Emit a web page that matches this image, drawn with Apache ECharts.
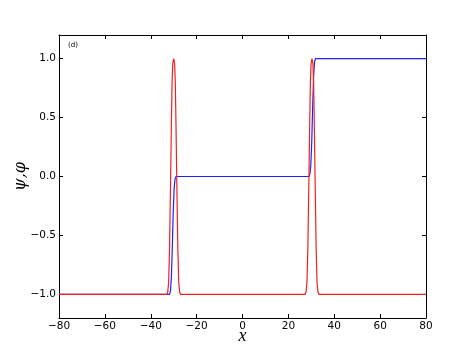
<!DOCTYPE html>
<html>
<head>
<meta charset="utf-8">
<script src="https://cdn.jsdelivr.net/npm/echarts@6/dist/echarts.min.js"></script>
<style>
  html, body { margin: 0; padding: 0; background: #fff; }
  #chart { width: 474px; height: 355px; }
</style>
</head>
<body>
<div id="chart"></div>
<script>
// blue curve: kink from -1 to 0 near x=-30, then 0 to 1 near x=30
const blueX = [-80, -31.8, -31.4, -31.0, -30.6, -30.2, -29.8, -29.4, -29.0,
  29.0, 29.4, 29.8, 30.2, 30.6, 31.0, 31.4, 31.8, 80];
const blueY = [-1, -1, -0.97, -0.85, -0.6, -0.3, -0.1, -0.02, 0,
  0, 0.02, 0.1, 0.3, 0.6, 0.85, 0.97, 1, 1];

// red curve: two narrow pulses reaching 1 at the kink positions
const redX = [-80, -33.0, -32.6, -32.2, -31.8, -31.4, -31.0, -30.7, -30.4, -30.0,
  -29.6, -29.3, -29.0, -28.6, -28.2, -27.8, -27.4, -27.0,
  27.3, 27.7, 28.1, 28.5, 28.9, 29.3, 29.6, 29.9, 30.3,
  30.7, 31.0, 31.3, 31.7, 32.1, 32.5, 32.9, 33.3, 80];
const redY = [-1, -1, -0.98, -0.9, -0.6, -0.1, 0.45, 0.8, 0.96, 1,
  0.96, 0.8, 0.45, -0.1, -0.6, -0.9, -0.98, -1,
  -1, -0.98, -0.9, -0.6, -0.1, 0.45, 0.8, 0.96, 1,
  0.96, 0.8, 0.45, -0.1, -0.6, -0.9, -0.98, -1, -1];

const yTicks = [-1.0, -0.5, 0.0, 0.5, 1.0];

const minus = v => (v < 0 ? '\u2212' : '') + Math.abs(v);
const fmtY = v => (v < 0 ? '\u2212' : '') + Math.abs(v).toFixed(1);

const chart = echarts.init(document.getElementById('chart'));

const frameLine = { show: true, onZero: false, lineStyle: { color: '#000', width: 1 } };
const tickStyle = { show: true, inside: true, length: 4, lineStyle: { color: '#000', width: 1 } };
const labelFont = { color: '#000', fontSize: 10.5, fontFamily: 'DejaVu Sans' };

chart.setOption({
  animation: false,
  grid: { left: 59, right: 48, top: 35, bottom: 37, outerBoundsMode: 'none', containLabel: false },
  xAxis: [
    {
      type: 'value', min: -80, max: 80, interval: 20,
      axisLine: frameLine, axisTick: tickStyle, splitLine: { show: false },
      axisLabel: Object.assign({ margin: 3, formatter: minus }, labelFont),
      name: 'x', nameLocation: 'middle', nameGap: 9, nameMoveOverlap: false,
      nameTextStyle: { fontFamily: 'Liberation Serif', fontStyle: 'italic', fontSize: 18, color: '#000' }
    },
    {
      type: 'value', min: -80, max: 80, interval: 20, position: 'top',
      axisLine: frameLine, axisTick: tickStyle, splitLine: { show: false },
      axisLabel: { show: false }
    }
  ],
  yAxis: [
    {
      type: 'value', min: -1.2, max: 1.2,
      axisLine: frameLine,
      axisTick: Object.assign({ customValues: yTicks }, tickStyle),
      splitLine: { show: false },
      axisLabel: Object.assign({ margin: 3, customValues: yTicks, formatter: fmtY }, labelFont),
      name: '\u03c8,\u03c6', nameLocation: 'middle', nameGap: 30, nameRotate: 90, nameMoveOverlap: false,
      nameTextStyle: { fontFamily: 'DejaVu Serif', fontStyle: 'italic', fontSize: 16, color: '#000' }
    },
    {
      type: 'value', min: -1.2, max: 1.2, position: 'right',
      axisLine: frameLine,
      axisTick: Object.assign({ customValues: yTicks }, tickStyle),
      splitLine: { show: false },
      axisLabel: { show: false }
    }
  ],
  graphic: [
    {
      type: 'text', left: 68, top: 42,
      style: { text: '(d)', fontSize: 7, fontFamily: 'DejaVu Sans', fill: '#000' }
    }
  ],
  series: [
    {
      type: 'line', xAxisIndex: 0, yAxisIndex: 0, showSymbol: false,
      data: blueX.map((x, i) => [x, blueY[i]]),
      lineStyle: { color: '#2020ff', width: 1.2 }
    },
    {
      type: 'line', xAxisIndex: 0, yAxisIndex: 0, showSymbol: false,
      data: redX.map((x, i) => [x, redY[i]]),
      lineStyle: { color: '#f02020', width: 1.2 }
    }
  ]
});
</script>
</body>
</html>
